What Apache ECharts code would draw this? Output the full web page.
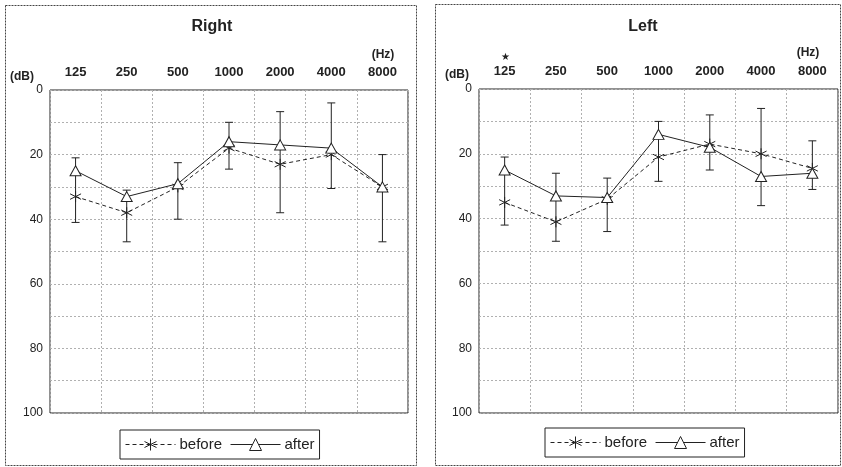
<!DOCTYPE html>
<html>
<head>
<meta charset="utf-8">
<script src="https://cdn.jsdelivr.net/npm/echarts@6/dist/echarts.min.js"></script>
<style>
  html, body { margin: 0; padding: 0; background: #fff; }
  #chart { width: 842px; height: 467px; }
</style>
</head>
<body>
<div id="chart"></div>
<script>
// frequencies (Hz)
const freqs = ['125', '250', '500', '1000', '2000', '4000', '8000']

// Right ear (dB)
const rightBefore = [33, 38, 30, 18, 23, 20, 30]
const rightAfter = [25, 33, 29, 16, 17, 18, 30]
const rightErrTop = [21, 31, 22.5, 10, 6.7, 4, 20]
const rightErrBottom = [41, 47, 40, 24.5, 38, 30.5, 47]

// Left ear (dB)
const leftBefore = [35, 41, 34, 21, 17, 20, 24.5]
const leftAfter = [25, 33, 33.5, 14, 18, 27, 26]
const leftErrTop = [21, 26, 27.5, 10, 8, 6, 16]
const leftErrBottom = [42, 47, 44, 28.5, 25, 36, 31]

const ink = '#222'
const starPath = 'path://M5,0L5,10M0.7,2.5L9.3,7.5M0.7,7.5L9.3,2.5'
const font = 'Liberation Sans, Arial, sans-serif'

const chart = echarts.init(document.getElementById('chart'))

const errData = (top, bottom) => top.map((t, i) => [i, t, bottom[i]])

// vertical error bar with caps
const renderErr = (params, api) => {
  const x = api.value(0)
  const p1 = api.coord([x, api.value(1)])
  const p2 = api.coord([x, api.value(2)])
  const w = 4
  const style = { stroke: ink, lineWidth: 1 }
  return {
    type: 'group',
    children: [
      { type: 'line', shape: { x1: p1[0], y1: p1[1], x2: p2[0], y2: p2[1] }, style },
      { type: 'line', shape: { x1: p1[0] - w, y1: p1[1], x2: p1[0] + w, y2: p1[1] }, style },
      { type: 'line', shape: { x1: p2[0] - w, y1: p2[1], x2: p2[0] + w, y2: p2[1] }, style }
    ]
  }
}

const makeX = (idx) => ({
  type: 'category',
  gridIndex: idx,
  data: freqs,
  position: 'top',
  boundaryGap: true,
  axisLine: { show: false },
  axisTick: { show: false },
  axisLabel: { margin: 11, color: ink, fontSize: 13, fontWeight: 'bold', fontFamily: font },
  splitLine: { show: true, lineStyle: { color: '#b0b0b0', type: [2, 2] } }
})

const makeY = (idx) => ({
  type: 'value',
  gridIndex: idx,
  inverse: true,
  min: 0,
  max: 100,
  interval: 10,
  axisLine: { show: false },
  axisTick: { show: false },
  axisLabel: {
    margin: 7, color: ink, fontSize: 12, fontFamily: font,
    formatter: v => (v % 20 === 0 ? v : '')
  },
  splitLine: { show: true, lineStyle: { color: '#b0b0b0', type: [2, 2] } }
})

const beforeSeries = (idx, data) => ({
  name: 'before',
  type: 'line',
  xAxisIndex: idx,
  yAxisIndex: idx,
  data: data,
  symbol: starPath,
  symbolSize: 11,
  itemStyle: { color: 'transparent', borderColor: ink, borderWidth: 1 },
  lineStyle: { color: ink, width: 1, type: [4, 3] },
  z: 3
})

const afterSeries = (idx, data) => ({
  name: 'after',
  type: 'line',
  xAxisIndex: idx,
  yAxisIndex: idx,
  data: data,
  symbol: 'triangle',
  symbolSize: [11, 10],
  itemStyle: { color: '#fff', borderColor: ink, borderWidth: 1 },
  lineStyle: { color: ink, width: 1 },
  z: 4
})

const errSeries = (idx, top, bottom) => ({
  name: 'err' + idx,
  type: 'custom',
  xAxisIndex: idx,
  yAxisIndex: idx,
  data: errData(top, bottom),
  encode: { x: 0, y: [1, 2] },
  renderItem: renderErr,
  z: 2
})

const txt = (x, y, s, size, weight) => ({
  type: 'text',
  x: x,
  y: y,
  style: {
    text: s, fill: ink, fontSize: size, fontWeight: weight || 'normal', fontFamily: font,
    align: 'center', verticalAlign: 'middle'
  }
})

const legendOpt = (left, top) => ({
  left: left,
  top: top,
  data: ['before', 'after'],
  orient: 'horizontal',
  itemWidth: 50,
  itemHeight: 15,
  itemGap: 8,
  padding: [7, 5],
  borderColor: ink,
  borderWidth: 1,
  selectedMode: false,
  itemStyle: { borderWidth: 1 },
  lineStyle: { width: 1 },
  textStyle: { color: ink, fontSize: 15, fontFamily: font, padding: [0, 0, 0, -1] }
})

const option = {
  animation: false,
  grid: [
    { left: 50, top: 90, width: 358, height: 323, show: true, borderColor: ink, borderWidth: 1 },
    { left: 479, top: 89, width: 359, height: 324, show: true, borderColor: ink, borderWidth: 1 }
  ],
  xAxis: [makeX(0), makeX(1)],
  yAxis: [makeY(0), makeY(1)],
  legend: [legendOpt(120, 430), legendOpt(545, 428)],
  graphic: [
    { type: 'rect', shape: { x: 5.5, y: 5.5, width: 411, height: 460 },
      style: { fill: 'none', stroke: '#444', lineWidth: 1, lineDash: [2, 1] } },
    { type: 'rect', shape: { x: 435.5, y: 4.5, width: 405, height: 461 },
      style: { fill: 'none', stroke: '#444', lineWidth: 1, lineDash: [2, 1] } },
    txt(212, 27, 'Right', 16, 'bold'),
    txt(643, 27, 'Left', 16, 'bold'),
    txt(383, 55, '(Hz)', 12, 'bold'),
    txt(808, 53, '(Hz)', 12, 'bold'),
    txt(22, 77, '(dB)', 12, 'bold'),
    txt(457, 75, '(dB)', 12, 'bold'),
    txt(505, 57, '★', 10)
  ],
  series: [
    errSeries(0, rightErrTop, rightErrBottom),
    beforeSeries(0, rightBefore),
    afterSeries(0, rightAfter),
    errSeries(1, leftErrTop, leftErrBottom),
    beforeSeries(1, leftBefore),
    afterSeries(1, leftAfter)
  ]
}

chart.setOption(option)
</script>
</body>
</html>
